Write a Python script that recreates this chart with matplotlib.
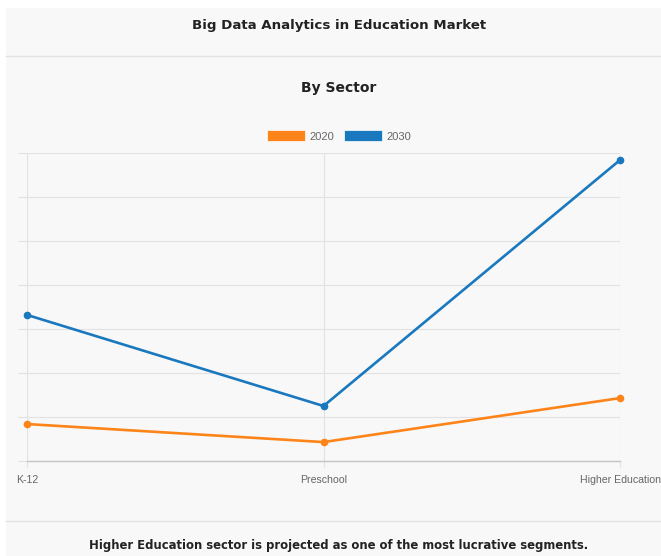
import matplotlib.pyplot as plt
from matplotlib.patches import Patch, Rectangle
from matplotlib.lines import Line2D

# values (relative units, no y labels shown)
sectors = ["K-12", "Preschool", "Higher Education"]
years = ["2020", "2030"]
values_2020 = [0.84, 0.43, 1.43]
values_2030 = [3.32, 1.25, 6.84]

title = "Big Data Analytics in Education Market"
subtitle = "By Sector"
footer = "Higher Education sector is projected as one of the most lucrative segments."

colors = {"2020": "#fd8419", "2030": "#1a78bf"}
panel_bg = "#f8f8f8"
grid_color = "#e2e2e2"

W, H = 661, 556


def fx(px):
    return px / W


def fy(py):
    return 1 - py / H


fig = plt.figure(figsize=(W / 100, H / 100), dpi=100, facecolor="white")

# light panel behind everything
fig.patches.append(Rectangle((fx(6), 0), 1 - fx(6), fy(8), transform=fig.transFigure,
                             facecolor=panel_bg, edgecolor="none", zorder=-10))
for py in (56, 521):
    fig.lines.append(Line2D([fx(6), 1], [fy(py), fy(py)], transform=fig.transFigure,
                            color=grid_color, linewidth=1.0))

# headings are centred on the (wider) card, not on the figure
fig.text(fx(339), fy(26), title, ha="center", va="center", fontsize=9.6,
         fontweight="bold", color="#222222")
fig.text(fx(339), fy(88), subtitle, ha="center", va="center", fontsize=10,
         fontweight="bold", color="#222222")
fig.text(fx(339), fy(546), footer, ha="center", va="center", fontsize=8.4,
         fontweight="bold", color="#222222")

ax = fig.add_axes([fx(27), fy(461), fx(620) - fx(27), fy(153) - fy(461)])
ax.set_facecolor("none")

x = list(range(len(sectors)))
for year, vals in zip(years, [values_2020, values_2030]):
    ax.plot(x, vals, color=colors[year], linewidth=1.9, marker="o",
            markersize=4.5, clip_on=False, zorder=3)

ax.set_xlim(0, len(sectors) - 1)
ax.set_ylim(0, 7)
ax.set_yticks(range(0, 8))
ax.set_xticks(x)
ax.set_xticklabels(sectors, fontsize=7.6, color="#666666", family="Liberation Sans")
ax.tick_params(axis="y", length=6.5, color=grid_color, labelleft=False)
ax.tick_params(axis="x", length=4, color=grid_color, pad=6)
ax.grid(True, color=grid_color, linewidth=0.8)
ax.set_axisbelow(True)
for side in ("top", "right", "left"):
    ax.spines[side].set_visible(False)
ax.spines["bottom"].set_color("#c4c4c4")
ax.spines["bottom"].set_linewidth(1.0)

handles = [Patch(facecolor=colors[y], edgecolor="#ffffff", linewidth=0.5, label=y) for y in years]
fig.legend(handles=handles, loc="center", bbox_to_anchor=(fx(339), fy(136)), ncol=2,
           frameon=False, handlelength=3.4, handleheight=1.1,
           handletextpad=0.4, columnspacing=0.9, labelcolor="#666666",
           prop={"family": "Liberation Sans", "size": 8})

fig.savefig("out.png", dpi=100, facecolor="white")
